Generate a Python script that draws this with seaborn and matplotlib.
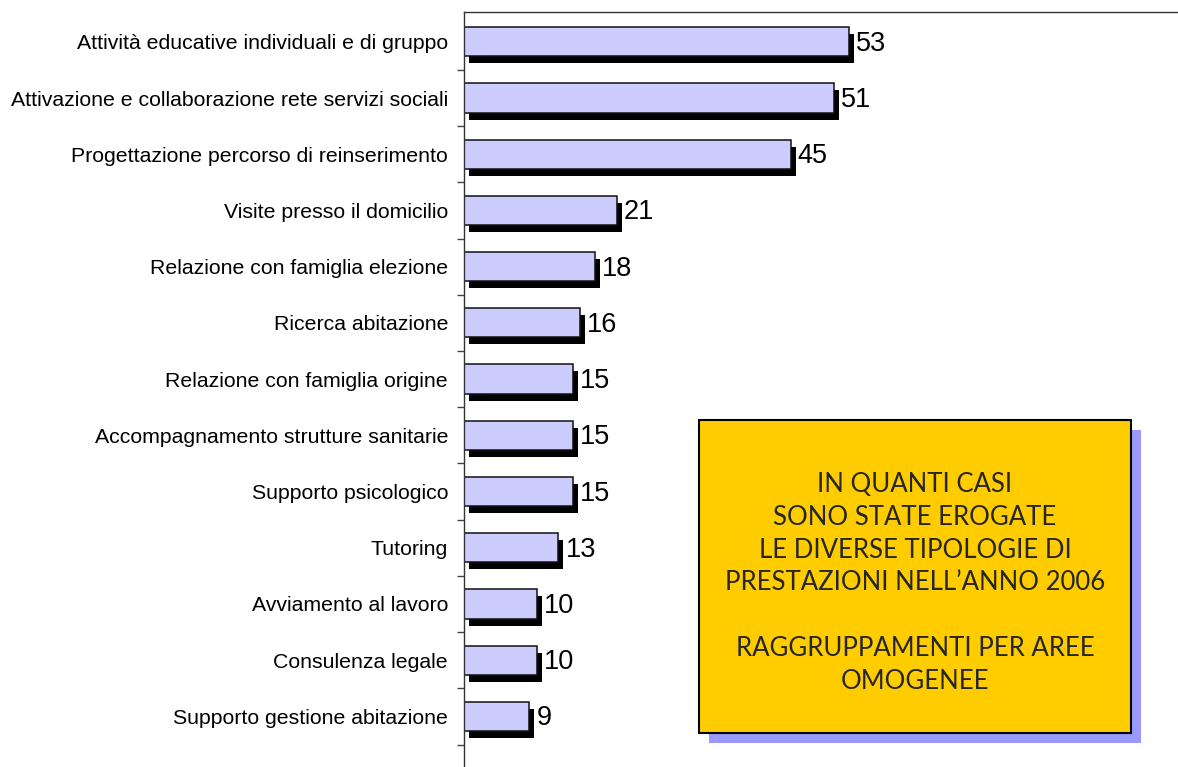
import numpy as np
import pandas as pd
import seaborn as sns
import matplotlib.pyplot as plt
from matplotlib.patches import Rectangle
from matplotlib.transforms import ScaledTranslation

categorie = ["Attività educative individuali e di gruppo",
             "Attivazione e collaborazione rete servizi sociali",
             "Progettazione percorso di reinserimento",
             "Visite presso il domicilio",
             "Relazione con famiglia elezione",
             "Ricerca abitazione",
             "Relazione con famiglia origine",
             "Accompagnamento strutture sanitarie",
             "Supporto psicologico",
             "Tutoring",
             "Avviamento al lavoro",
             "Consulenza legale",
             "Supporto gestione abitazione"]
casi = [53, 51, 45, 21, 18, 16, 15, 15, 15, 13, 10, 10, 9]

titolo = ("IN QUANTI CASI\nSONO STATE EROGATE\nLE DIVERSE TIPOLOGIE DI\n"
          "PRESTAZIONI NELL\u2019ANNO 2006\n\nRAGGRUPPAMENTI PER AREE\nOMOGENEE")

df = pd.DataFrame({"categoria": categorie, "casi": casi})

sns.set_style("white")
plt.rcParams["font.family"] = ["Liberation Sans", "DejaVu Sans"]

W, H = 1178, 767
fig = plt.figure(figsize=(W / 100, H / 100), dpi=100)
ax = fig.add_axes([464 / W, 0, 1 - 464 / W, 1 - 12 / H])

# ombra delle barre
sns.barplot(data=df, x="casi", y="categoria", orient="h", color="black",
            width=0.52, ax=ax, saturation=1)
shift = ScaledTranslation(5 / 100, -7 / 100, fig.dpi_scale_trans)
for p in ax.patches:
    p.set_transform(ax.transData + shift)
    p.set_linewidth(0)

sns.barplot(data=df, x="casi", y="categoria", orient="h", color="#CCCCFF",
            width=0.52, edgecolor="#111111", linewidth=1.1, ax=ax, saturation=1)

for i, v in enumerate(casi):
    ax.annotate(str(v), xy=(v, i), xytext=(7, -2), textcoords="offset pixels",
                va="center", ha="left", fontsize=19.5, color="black")

ax.set_xlim(0, 98.3)
ax.set_ylim(12.9, -0.53)
ax.set_xlabel("")
ax.set_ylabel("")
ax.set_xticks([])
ax.set_yticks(range(len(categorie)))
ax.set_yticklabels(categorie, fontsize=15.3, color="black")
ax.set_yticks(np.arange(0.5, len(categorie), 1), minor=True)
ax.tick_params(axis="y", which="major", length=0, pad=11.5)
ax.tick_params(axis="y", which="minor", length=5, width=1, color="#444444",
               direction="out", left=True)
for s in ["right", "bottom"]:
    ax.spines[s].set_visible(False)
for s in ["left", "top"]:
    ax.spines[s].set_visible(True)
    ax.spines[s].set_color("#333333")
    ax.spines[s].set_linewidth(1)

# riquadro del titolo
bx0, by0, bx1, by1 = 699, 420, 1131, 733
fig.add_artist(Rectangle(((bx0 + 10) / W, 1 - (by1 + 10) / H), (bx1 - bx0) / W,
                         (by1 - by0) / H, transform=fig.transFigure,
                         facecolor="#9999FF", edgecolor="none", zorder=5))
fig.add_artist(Rectangle((bx0 / W, 1 - by1 / H), (bx1 - bx0) / W,
                         (by1 - by0) / H, transform=fig.transFigure,
                         facecolor="#FFCC00", edgecolor="black", linewidth=1.5, zorder=6))
fig.text(915 / W, 1 - 583 / H, titolo, ha="center", va="center", fontsize=18.5,
         linespacing=1.385, family=["Lato", "DejaVu Sans"], zorder=7)

fig.savefig("out.png", dpi=100)
